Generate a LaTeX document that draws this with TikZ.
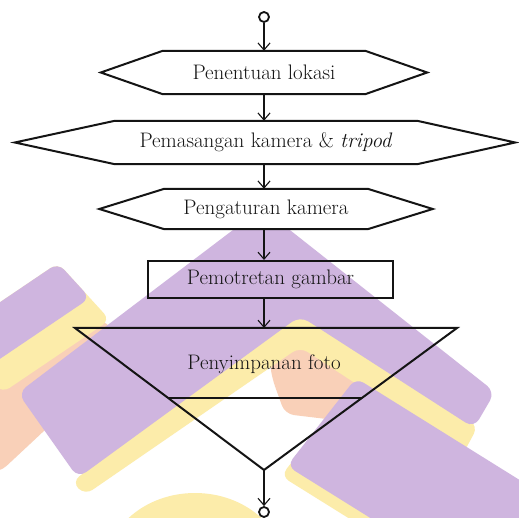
\documentclass[tikz,border=0pt]{standalone}
\usetikzlibrary{arrows.meta,calc}
\definecolor{wmpurple}{RGB}{207,181,223}
\definecolor{wmyellow}{RGB}{252,236,170}
\definecolor{wmpeach}{RGB}{249,208,184}
\definecolor{ink}{RGB}{20,20,20}
\pgfdeclarelayer{bg}
\pgfsetlayers{bg,main}
\begin{document}
\begin{tikzpicture}[x=1pt,y=-1pt,
  wm/.style={rounded corners=9pt},
  boxtext/.style={inner sep=0pt, font=\fontsize{21}{25}\selectfont, text=ink},
  outline/.style={draw=ink, line width=2pt, line join=miter},
  flow/.style={draw=ink, line width=1.1pt, -{Straight Barb[length=7pt,width=12pt]}},
  term/.style={circle, draw=ink, line width=1.8pt, minimum size=10pt, inner sep=0pt},
]
\useasboundingbox (0,0) rectangle (519,518);

% ---- nodes ----
\node[term] (s) at (264,17) {};
\node[boxtext, minimum width=202pt, minimum height=43pt] (b1) at (264,72.5) {Penentuan lokasi};
\node[boxtext, minimum width=302pt, minimum height=43pt] (b2) at (266,142.5) {Pemasangan kamera \& \textit{tripod}};
\node[boxtext, minimum width=203pt, minimum height=40pt] (b3) at (266,209) {Pengaturan kamera};
\node[boxtext, draw=ink, line width=2pt, minimum width=245pt, minimum height=37pt] (b4) at (270.5,279.5) {Pemotretan gambar};
\coordinate (tl) at (75,328);
\coordinate (tr) at (457,328);
\coordinate (apex) at (264,470);
\node[boxtext] (t5) at (264,364) {Penyimpanan foto};
\node[term] (e) at (264,512) {};

% ---- watermark & shape outlines on background layer ----
\begin{pgfonlayer}{bg}
\fill[white] (0,0) rectangle (519,518);
\begin{scope}
\clip (0,0) rectangle (519,518);
% top-left band
\fill[wmpeach, wm] (100,318) -- (130,345) -- (45,430) -- (0,472) -- (-30,472) -- (-30,400) -- cycle;
\fill[wmyellow, wm] (58,263) -- (110,320) -- (2,393) -- (-50,336) -- cycle;
\fill[wmpurple, wm] (58,263) -- (90,298) -- (-18,371) -- (-50,336) -- cycle;
% central peach
\fill[wmpeach, wm] (268,348) -- (300,336) -- (372,384) -- (335,420) -- (285,414) -- (272,378) -- cycle;
% yellow chevron
\fill[wmyellow, wm] (72,482) -- (300,306) -- (478,426) -- (463,454) -- (300,347) -- (85,495) -- cycle;
% purple chevron
\fill[wmpurple, rounded corners=10pt] (18,393) -- (262,208) -- (495,392) -- (474,428) -- (300,316) -- (78,478) -- cycle;
% lower-right band
\fill[wmyellow, wm] (350,388) -- (281,476) -- (621,688) -- (690,600) -- cycle;
\fill[wmpurple, wm] (356,378) -- (287,466) -- (627,678) -- (696,590) -- cycle;
% bottom yellow blob
\fill[wmyellow] (195,570) ellipse [x radius=90, y radius=77];
\end{scope}
% hexagon outlines
\draw[outline, fill=white] (b1.north west) -- (b1.north east) -- ($(b1.east)+(62,0)$) -- (b1.south east) -- (b1.south west) -- ($(b1.west)+(-62,0)$) -- cycle;
\draw[outline, fill=white] (b2.north west) -- (b2.north east) -- ($(b2.east)+(98,0)$) -- (b2.south east) -- (b2.south west) -- ($(b2.west)+(-100,0)$) -- cycle;
\draw[outline, fill=white] (b3.north west) -- (b3.north east) -- ($(b3.east)+(65,0)$) -- (b3.south east) -- (b3.south west) -- ($(b3.west)+(-65,0)$) -- cycle;
\end{pgfonlayer}

% triangle
\draw[outline] (tl) -- (tr) -- (apex) -- cycle;
\draw[outline] ($(tl)!0.493!(apex)$) -- ($(tr)!0.493!(apex)$);

% ---- connectors ----
\draw[flow] (s.south) -- (s.south |- b1.north);
\draw[flow] (s |- b1.south) -- (s |- b2.north);
\draw[flow] (s |- b2.south) -- (s |- b3.north);
\draw[flow] (s |- b3.south) -- (s |- b4.north);
\draw[flow] (s |- b4.south) -- (s |- tl);
\draw[flow] (apex) -- (e.north);
\end{tikzpicture}
\end{document}
